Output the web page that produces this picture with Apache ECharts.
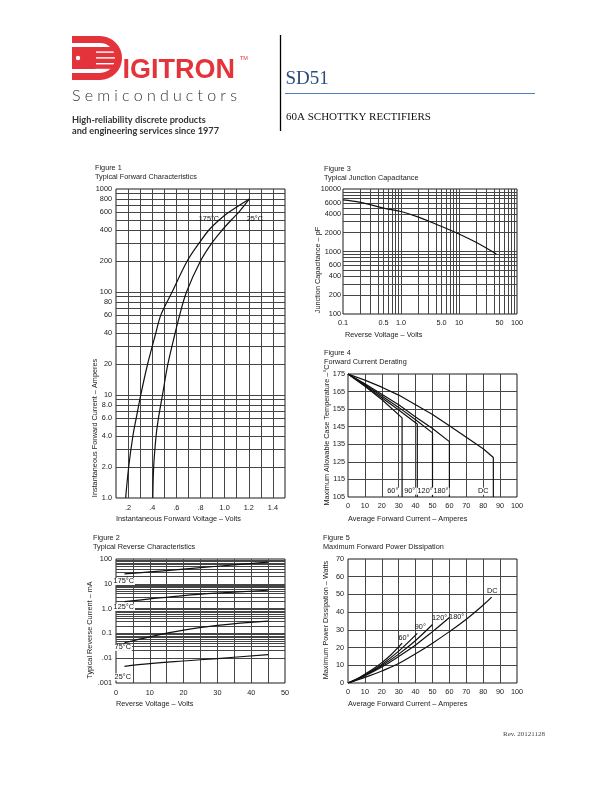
<!DOCTYPE html>
<html><head><meta charset="utf-8">
<script src="https://cdn.jsdelivr.net/npm/echarts@6/dist/echarts.min.js"></script>
<style>html,body{margin:0;padding:0;background:#fff}#c{width:612px;height:792px}</style>
</head><body><div id="c"></div>
<script>
// ---------- Figure 1: Typical Forward Characteristics ----------
const fig1Current = [1, 2, 4, 6, 10, 20, 40, 60, 100, 200, 300, 400, 500, 600, 800];
const fig1Voltage175 = [0.18, 0.205, 0.24, 0.268, 0.305, 0.362, 0.43, 0.472, 0.565, 0.69, 0.79, 0.87, 0.955, 1.04, 1.205];
const fig1Voltage25 = [0.405, 0.412, 0.432, 0.452, 0.485, 0.53, 0.59, 0.628, 0.684, 0.80, 0.895, 0.98, 1.055, 1.12, 1.205];
const fig1XTicks = [0.2, 0.4, 0.6, 0.8, 1.0, 1.2, 1.4];
const fig1XTickLabels = ['.2', '.4', '.6', '.8', '1.0', '1.2', '1.4'];
const fig1YTicks = [1, 2, 4, 6, 8, 10, 20, 40, 60, 80, 100, 200, 400, 600, 800, 1000];
const fig1YTickLabels = ['1.0', '2.0', '4.0', '6.0', '8.0', '10', '20', '40', '60', '80', '100', '200', '400', '600', '800', '1000'];
const fig1Notes = [['175°C', 0.87, 510], ['25°C', 1.25, 510]];

// ---------- Figure 2: Typical Reverse Characteristics ----------
const fig2Voltage = [2.5, 10, 20, 30, 45];
const fig2Current175 = [25, 30, 39, 51, 75];
const fig2Current125 = [1.9, 2.45, 3.35, 4.2, 5.5];
const fig2Current75 = [0.042, 0.073, 0.135, 0.21, 0.31];
const fig2Current25 = [0.0047, 0.006, 0.0077, 0.0097, 0.014];
const fig2XTicks = [0, 10, 20, 30, 40, 50];
const fig2XTickLabels = ['0', '10', '20', '30', '40', '50'];
const fig2YTicks = [0.001, 0.01, 0.1, 1, 10, 100];
const fig2YTickLabels = ['.001', '.01', '0.1', '1.0', '10', '100'];
const fig2Notes = [['175°C', 2.3, 12.4], ['125°C', 2.3, 1.13], ['75°C', 2.0, 0.0272], ['25°C', 2.0, 0.00175]];

// ---------- Figure 3: Typical Junction Capacitance ----------
const fig3Voltage = [0.1, 0.2, 0.5, 1, 2, 5, 10, 20, 44];
const fig3Capacitance = [6700, 6100, 4950, 4370, 3550, 2510, 1910, 1390, 910];
const fig3XTicks = [0.1, 0.5, 1, 5, 10, 50, 100];
const fig3XTickLabels = ['0.1', '0.5', '1.0', '5.0', '10', '50', '100'];
const fig3YTicks = [100, 200, 400, 600, 1000, 2000, 4000, 6000, 10000];
const fig3YTickLabels = ['100', '200', '400', '600', '1000', '2000', '4000', '6000', '10000'];

// ---------- Figure 4: Forward Current Derating ----------
const fig4Current60 = [0, 10, 20, 32, 32];
const fig4Temp60 = [175, 168, 160.5, 150, 105];
const fig4Current90 = [0, 10, 20, 30, 41, 41];
const fig4Temp90 = [175, 168.5, 161.5, 154.5, 146.5, 105];
const fig4Current120 = [0, 10, 20, 30, 40, 50, 50];
const fig4Temp120 = [175, 169, 162.5, 156, 149, 141.5, 105];
const fig4Current180 = [0, 10, 20, 30, 40, 50, 60, 60];
const fig4Temp180 = [175, 169.5, 163.5, 157.5, 150.5, 144, 136.5, 105];
const fig4CurrentDC = [0, 10, 20, 30, 40, 50, 60, 70, 80, 86, 86];
const fig4TempDC = [175, 171.5, 167.5, 163, 157.5, 152, 145.5, 139, 132.5, 127.5, 105];
const fig4XTicks = [0, 10, 20, 30, 40, 50, 60, 70, 80, 90, 100];
const fig4YTicks = [105, 115, 125, 135, 145, 155, 165, 175];
const fig4Notes = [['60°', 26.5, 108.3], ['90°', 36.5, 108.3], ['120°', 45.6, 108.3], ['180°', 55, 108.3], ['DC', 80, 108.3]];

// ---------- Figure 5: Maximum Forward Power Dissipation ----------
const fig5Current60 = [0, 5, 10, 15, 20, 25, 32];
const fig5Power60 = [0, 2.2, 5, 8, 11.5, 15.5, 22.5];
const fig5Current90 = [0, 5, 10, 20, 30, 41];
const fig5Power90 = [0, 2, 4.6, 10.5, 18, 28];
const fig5Current120 = [0, 5, 10, 20, 30, 40, 50];
const fig5Power120 = [0, 1.9, 4.3, 9.8, 16.3, 24, 33];
const fig5Current180 = [0, 5, 10, 20, 30, 40, 50, 60];
const fig5Power180 = [0, 1.7, 4, 9, 15, 21.5, 29, 37];
const fig5CurrentDC = [0, 10, 20, 30, 40, 50, 60, 70, 80, 85];
const fig5PowerDC = [0, 3.2, 6.8, 11, 16.5, 22.5, 29, 36, 44, 48.5];
const fig5XTicks = [0, 10, 20, 30, 40, 50, 60, 70, 80, 90, 100];
const fig5YTicks = [0, 10, 20, 30, 40, 50, 60, 70];
const fig5Notes = [['60°', 33.1, 25.5], ['90°', 42.8, 31.4], ['120°', 54.2, 36.9], ['180°', 64.3, 37.1], ['DC', 85.4, 52.2]];

// ---------- helpers ----------
const FONT = '"Liberation Sans", Arial, sans-serif';
const FS = 7.3;
const INK = '#222';
const GRIDC = '#454545';
function rng(a, b, s) { const r = []; for (let v = a; v <= b + 1e-9; v += s) r.push(+v.toFixed(6)); return r; }
function logMinors(lo, hi) {
  const r = [];
  for (let d = lo; d < hi * 0.999; d *= 10) {
    for (let k = 1; k < 10; k++) { const v = +(k * d).toPrecision(6); if (v > lo * 1.0001 && v < hi * 0.9999) r.push(v); }
  }
  return r;
}
function fmt(vals, labels) {
  return function (v) {
    for (let i = 0; i < vals.length; i++) {
      if (Math.abs(v - vals[i]) <= 1e-6 * Math.max(1e-9, Math.abs(vals[i])) + 1e-12) return labels ? labels[i] : String(vals[i]);
    }
    return '';
  };
}
function zip(xs, ys) { return xs.map((x, i) => [x, ys[i]]); }
const lab = { fontSize: FS, color: INK, fontFamily: FONT };
function baseAxis(extra) {
  return Object.assign({ axisLine: { show: false }, axisTick: { show: false }, splitLine: { show: false } }, extra);
}
function curve(g, pts, smooth, mark) {
  const s = {
    type: 'line', xAxisIndex: g, yAxisIndex: g, data: pts, smooth: smooth,
    symbol: 'none', showSymbol: false,
    lineStyle: { color: '#111', width: 1.2 }, z: 3, silent: true, animation: false
  };
  if (mark) s.markLine = mark;
  return s;
}
function gridMarks(xs, ys) {
  return {
    z: 1, silent: true, symbol: ['none', 'none'], label: { show: false }, animation: false,
    lineStyle: { color: GRIDC, width: 1, type: 'solid' },
    emphasis: { disabled: true },
    data: xs.map(v => ({ xAxis: v })).concat(ys.map(v => ({ yAxis: v })))
  };
}
function notes(g, arr, bg) {
  return {
    type: 'scatter', xAxisIndex: g, yAxisIndex: g, symbol: 'circle', symbolSize: 1, z: 6, silent: true, animation: false,
    itemStyle: { color: 'rgba(255,255,255,0)' },
    data: arr.map(a => [a[1], a[2], a[0]]),
    label: Object.assign({
      show: true, position: 'inside', formatter: p => p.data[2], fontSize: FS, color: '#111', fontFamily: FONT,
      textBorderWidth: 0, textBorderColor: 'transparent', opacity: 1
    }, bg ? { backgroundColor: '#fff', padding: [0, 1] } : {})
  };
}

const fig1GridX = rng(0.2, 1.4, 0.1), fig1GridY = logMinors(1, 1000);
const fig3GridX = logMinors(0.1, 100), fig3GridY = logMinors(100, 10000);
const fig4GridX = rng(10, 90, 10), fig4GridY = rng(115, 165, 10);
const fig2GridX = rng(5, 45, 5), fig2GridY = logMinors(0.001, 100);
const fig5GridX = rng(10, 90, 10), fig5GridY = rng(10, 60, 10);

const gridBox = { show: true, borderColor: '#1a1a1a', borderWidth: 1, backgroundColor: '#fff' };

// ---------- header graphics ----------
const RED = '#e5333c';
const g = [];
function txt(x, y, text, o) {
  o = o || {};
  g.push({
    type: 'text', x: x, y: y, rotation: o.rot || 0, silent: true, z: 10,
    style: {
      text: text, fill: o.fill || INK, fontSize: o.size || FS, fontFamily: o.family || FONT, fontWeight: o.weight || 'normal',
      align: o.align || 'left', textAlign: o.align || 'left', verticalAlign: 'middle', textVerticalAlign: 'middle'
    }
  });
}
// D of logo
g.push({ type: 'rect', silent: true, shape: { x: 72, y: 36, width: 28.5, height: 7 }, style: { fill: RED } });
g.push({ type: 'rect', silent: true, shape: { x: 72, y: 73, width: 28.5, height: 7 }, style: { fill: RED } });
g.push({ type: 'sector', silent: true, shape: { cx: 100, cy: 58, r: 22, r0: 15, startAngle: -Math.PI / 2, endAngle: Math.PI / 2, clockwise: true }, style: { fill: RED } });
g.push({ type: 'rect', silent: true, shape: { x: 72, y: 47, width: 24, height: 22, r: [0, 2, 2, 0] }, style: { fill: RED } });
[47, 52.8, 58.6, 64.4].forEach(yy => g.push({ type: 'rect', silent: true, shape: { x: 94, y: yy, width: 21, height: 4.4 }, style: { fill: RED } }));
g.push({ type: 'circle', silent: true, shape: { cx: 78, cy: 58, r: 2.2 }, style: { fill: '#fff' } });
txt(122.5, 71, 'IGITRON', { size: 27, weight: 'bold', fill: RED });
txt(240, 58.5, 'TM', { size: 5.5, fill: RED });
// Semiconductors with tracking
(function () {
  const word = 'Semiconductors';
  const ctx = document.createElement('canvas').getContext('2d');
  ctx.font = '300 16px Lato, "Liberation Sans", sans-serif';
  const ws = word.split('').map(ch => ctx.measureText(ch).width);
  const total = ws.reduce((a, b) => a + b, 0);
  const track = (165 - total) / (word.length - 1);
  let x = 72;
  word.split('').forEach((ch, i) => {
    txt(x, 96, ch, { size: 16, family: 'Lato, "Liberation Sans", sans-serif', weight: 300, fill: '#333' });
    x += ws[i] + track;
  });
})();
txt(72, 120, 'High-reliability discrete products', { size: 9.2, weight: 'bold', family: 'Lato, "Open Sans", sans-serif', fill: '#333' });
txt(72, 131.5, 'and engineering services since 1977', { size: 9.2, weight: 'bold', family: 'Lato, "Open Sans", sans-serif', fill: '#333' });
g.push({ type: 'line', silent: true, shape: { x1: 280.5, y1: 35, x2: 280.5, y2: 131 }, style: { stroke: '#000', lineWidth: 1.3 } });
txt(285.5, 79, 'SD51', { size: 19, family: '"Liberation Serif", serif', fill: '#2b4b7c' });
g.push({ type: 'line', silent: true, shape: { x1: 285, y1: 93.5, x2: 535, y2: 93.5 }, style: { stroke: '#4f81bd', lineWidth: 1 } });
txt(286, 117, '60A SCHOTTKY RECTIFIERS', { size: 11, family: '"Liberation Serif", serif', fill: '#111' });
txt(503, 734, 'Rev. 20121128', { size: 7, family: '"Liberation Serif", serif', fill: '#444' });

// figure titles
txt(95, 168, 'Figure 1'); txt(95, 177, 'Typical Forward Characteristics');
txt(324, 169, 'Figure 3'); txt(324, 178, 'Typical Junction Capacitance');
txt(324, 352.5, 'Figure 4'); txt(324, 361.5, 'Forward Current Derating');
txt(93, 537.5, 'Figure 2'); txt(93, 546.5, 'Typical Reverse Characteristics');
txt(323, 537.5, 'Figure 5'); txt(323, 546.5, 'Maximum Forward Power Dissipation');
// axis names
const R = Math.PI / 2;
txt(95, 428, 'Instantaneous Forward Current – Amperes', { rot: R, align: 'center' });
txt(116, 519, 'Instantaneous Forward Voltage – Volts');
txt(318, 270, 'Junction Capacitance – pF', { rot: R, align: 'center' });
txt(345, 335, 'Reverse Voltage – Volts');
txt(326.5, 435, 'Maximum Allowable Case Temperature –°C', { rot: R, align: 'center' });
txt(348, 519, 'Average Forward Current – Amperes');
txt(90, 630, 'Typical Reverse Current – mA', { rot: R, align: 'center' });
txt(116, 704, 'Reverse Voltage – Volts');
txt(325.5, 620, 'Maximum Power Dissipation – Watts', { rot: R, align: 'center' });
txt(348, 704, 'Average Forward Current – Amperes');

const option = {
  backgroundColor: '#fff',
  animation: false,
  grid: [
    Object.assign({ left: 116, top: 189, width: 169, height: 309 }, gridBox),
    Object.assign({ left: 343, top: 189, width: 174, height: 125 }, gridBox),
    Object.assign({ left: 348, top: 374, width: 169, height: 123 }, gridBox),
    Object.assign({ left: 116, top: 559, width: 169, height: 124 }, gridBox),
    Object.assign({ left: 348, top: 559, width: 169, height: 124 }, gridBox)
  ],
  xAxis: [
    baseAxis({ gridIndex: 0, type: 'value', min: 0.1, max: 1.5, interval: 0.1, axisLabel: Object.assign({ margin: 6, formatter: fmt(fig1XTicks, fig1XTickLabels) }, lab) }),
    baseAxis({ gridIndex: 1, type: 'log', logBase: 10, min: 0.1, max: 100, axisLabel: Object.assign({ margin: 5, customValues: fig3XTicks, formatter: fmt(fig3XTicks, fig3XTickLabels) }, lab) }),
    baseAxis({ gridIndex: 2, type: 'value', min: 0, max: 100, interval: 10, axisLabel: Object.assign({ margin: 5, formatter: fmt(fig4XTicks) }, lab) }),
    baseAxis({ gridIndex: 3, type: 'value', min: 0, max: 50, interval: 5, axisLabel: Object.assign({ margin: 6, formatter: fmt(fig2XTicks, fig2XTickLabels) }, lab) }),
    baseAxis({ gridIndex: 4, type: 'value', min: 0, max: 100, interval: 10, axisLabel: Object.assign({ margin: 5, formatter: fmt(fig5XTicks) }, lab) })
  ],
  yAxis: [
    baseAxis({ gridIndex: 0, type: 'log', logBase: 10, min: 1, max: 1000, axisLabel: Object.assign({ margin: 4, customValues: fig1YTicks, formatter: fmt(fig1YTicks, fig1YTickLabels) }, lab) }),
    baseAxis({ gridIndex: 1, type: 'log', logBase: 10, min: 100, max: 10000, axisLabel: Object.assign({ margin: 2, customValues: fig3YTicks, formatter: fmt(fig3YTicks, fig3YTickLabels) }, lab) }),
    baseAxis({ gridIndex: 2, type: 'value', min: 105, max: 175, interval: 5, axisLabel: Object.assign({ margin: 3, formatter: fmt(fig4YTicks) }, lab) }),
    baseAxis({ gridIndex: 3, type: 'log', logBase: 10, min: 0.001, max: 100, axisLabel: Object.assign({ margin: 4, customValues: fig2YTicks, formatter: fmt(fig2YTicks, fig2YTickLabels) }, lab) }),
    baseAxis({ gridIndex: 4, type: 'value', min: 0, max: 70, interval: 10, axisLabel: Object.assign({ margin: 4, formatter: fmt(fig5YTicks) }, lab) })
  ],
  series: [
    curve(0, zip(fig1Voltage175, fig1Current), 0.35, gridMarks(fig1GridX, fig1GridY)),
    curve(0, zip(fig1Voltage25, fig1Current), 0.35),
    notes(0, fig1Notes, false),
    curve(1, zip(fig3Voltage, fig3Capacitance), 0.4, gridMarks(fig3GridX, fig3GridY)),
    curve(2, zip(fig4Current60, fig4Temp60), false, gridMarks(fig4GridX, fig4GridY)),
    curve(2, zip(fig4Current90, fig4Temp90), false),
    curve(2, zip(fig4Current120, fig4Temp120), false),
    curve(2, zip(fig4Current180, fig4Temp180), false),
    curve(2, zip(fig4CurrentDC, fig4TempDC), false),
    notes(2, fig4Notes, true),
    curve(3, zip(fig2Voltage, fig2Current175), 0.4, gridMarks(fig2GridX, fig2GridY)),
    curve(3, zip(fig2Voltage, fig2Current125), 0.4),
    curve(3, zip(fig2Voltage, fig2Current75), 0.4),
    curve(3, zip(fig2Voltage, fig2Current25), 0.4),
    notes(3, fig2Notes, true),
    curve(4, zip(fig5Current60, fig5Power60), 0.4, gridMarks(fig5GridX, fig5GridY)),
    curve(4, zip(fig5Current90, fig5Power90), 0.4),
    curve(4, zip(fig5Current120, fig5Power120), 0.4),
    curve(4, zip(fig5Current180, fig5Power180), 0.4),
    curve(4, zip(fig5CurrentDC, fig5PowerDC), 0.4),
    notes(4, fig5Notes, false)
  ],
  graphic: g
};
const chart = echarts.init(document.getElementById('c'), null, { renderer: 'canvas', width: 612, height: 792 });
chart.setOption(option);
</script>
</body></html>
